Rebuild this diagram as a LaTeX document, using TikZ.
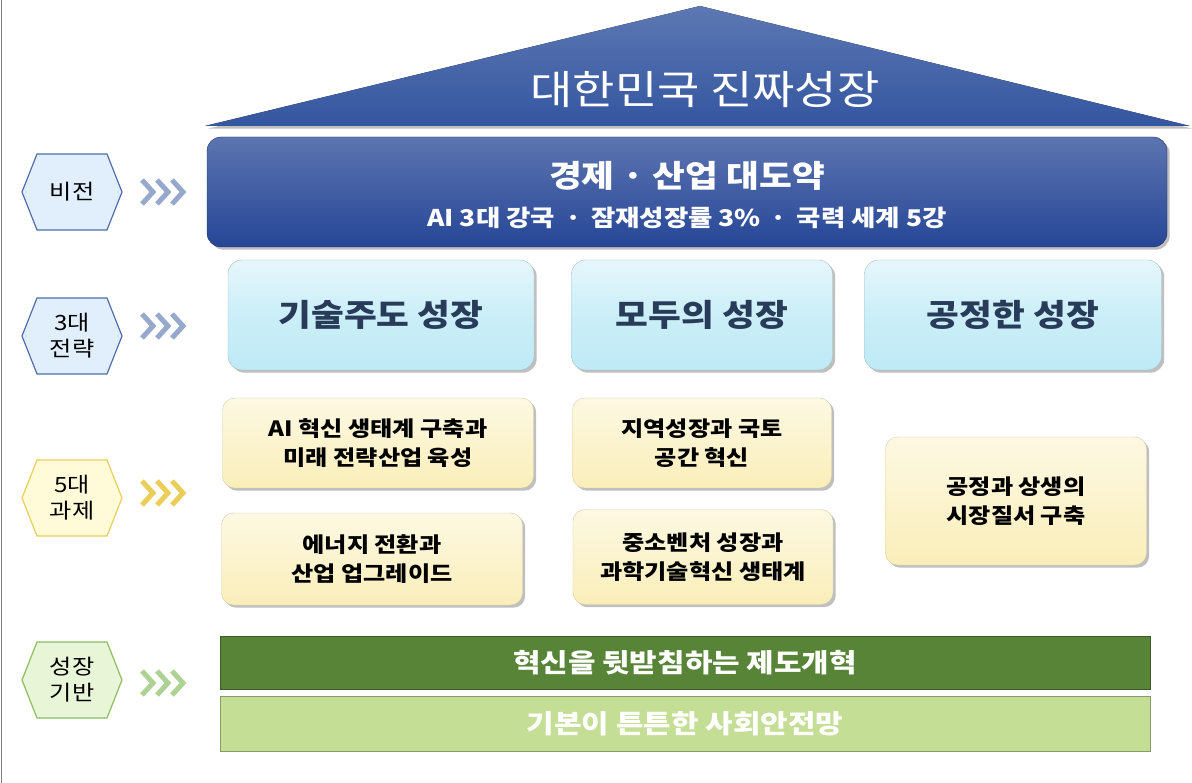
\documentclass[tikz,border=0pt]{standalone}
\usepackage{fontspec}
\setmainfont[FakeStretch=1.15]{Noto Sans CJK KR}
\usetikzlibrary{shadows,calc}
\definecolor{roofblue}{RGB}{52,86,160}
\definecolor{visblue}{RGB}{38,70,150}
\definecolor{stratfill}{RGB}{190,234,246}
\definecolor{stratText}{RGB}{40,60,90}
\definecolor{taskfill}{RGB}{250,238,185}
\definecolor{darkgreen}{RGB}{88,132,56}
\definecolor{lightgreen}{RGB}{196,222,150}
\definecolor{hexblue}{RGB}{225,238,252}
\definecolor{hexblueline}{RGB}{80,110,170}
\definecolor{hexyellow}{RGB}{255,250,215}
\definecolor{hexyellowline}{RGB}{235,205,90}
\definecolor{hexgreen}{RGB}{232,245,215}
\definecolor{hexgreenline}{RGB}{140,190,100}
\tikzset{
  stratbox/.style={draw=stratfill!60!gray, rounded corners=14pt, top color=stratfill!40, bottom color=stratfill, middle color=stratfill!80, drop shadow, font=\fontsize{31}{34}\selectfont\bfseries, text=stratText},
  taskbox/.style={draw=taskfill!70!gray, rounded corners=12pt, top color=taskfill!40, bottom color=taskfill, drop shadow, font=\fontsize{21}{29}\selectfont\bfseries, align=center},
  hexlabel/.style={font=\fontsize{21}{26}\selectfont, align=center},
  chev/.style={line width=5pt, line cap=butt, line join=miter}
}
\newcommand{\hexat}[4]{% center, fill, line, text
  \draw[fill=#2, draw=#3, line width=1.2pt] ($(#1)+(-50,0)$) -- ++(15,-38) -- ++(70,0) -- ++(15,38) -- ++(-15,38) -- ++(-70,0) -- cycle;
  \node[hexlabel] at (#1) {#4};}
\newcommand{\chevat}[2]{% start, colour
  \foreach \k in {0,1,2}
    \draw[chev, #2] ($(#1)+(\k*15,-12)$) -- ++(11,12) -- ++(-11,12);}
\begin{document}
\begin{tikzpicture}[x=1pt,y=-1pt]
\useasboundingbox (0,0) rectangle (1192,783);
\fill[white] (0,0) rectangle (1192,783);
\draw[gray, line width=1pt] (1,0) -- (1,783);
% roof
\fill[top color=roofblue!80, bottom color=roofblue, drop shadow] (700,6) -- (1190,126) -- (205,126) -- cycle;
\node[text=white, font=\fontsize{40}{42}\selectfont] (roof) at (705,90) {대한민국 진짜성장};
% vision
\node[rounded corners=14pt, top color=visblue!75, bottom color=visblue, draw=visblue!70!black, drop shadow,
  minimum width=960pt, minimum height=110pt] (vision) at (687,192) {};
\node[text=white, font=\fontsize{31}{34}\selectfont\bfseries] at (687,176) {경제 · 산업 대도약};
\node[text=white, font=\fontsize{23}{26}\selectfont\bfseries] at (687,218) {AI 3대 강국 \,·\, 잠재성장률 3\% \,·\, 국력 세계 5강};
% strategies
\node[stratbox, minimum width=306pt, minimum height=110pt] (s1) at (381,315) {기술주도 성장};
\node[stratbox, minimum width=261pt, minimum height=110pt] (s2) at (702,315) {모두의 성장};
\node[stratbox, minimum width=297pt, minimum height=110pt] (s3) at (1013,315) {공정한 성장};
% tasks
\node[taskbox, minimum width=311pt, minimum height=90pt] (t1) at (378,443) {AI 혁신 생태계 구축과\\미래 전략산업 육성};
\node[taskbox, minimum width=301pt, minimum height=92pt] (t2) at (372,559) {에너지 전환과\\산업 업그레이드};
\node[taskbox, minimum width=259pt, minimum height=90pt] (t3) at (702,443) {지역성장과 국토\\공간 혁신};
\node[taskbox, minimum width=260pt, minimum height=95pt] (t4) at (703,557) {중소벤처 성장과\\과학기술혁신 생태계};
\node[taskbox, minimum width=261pt, minimum height=128pt] (t5) at (1016,501) {공정과 상생의\\시장질서 구축};
% foundations
\node[fill=darkgreen, draw=darkgreen!70!black, minimum width=930pt, minimum height=53pt, text=white,
  font=\fontsize{26}{28}\selectfont\bfseries] (f1) at (685,663) {혁신을 뒷받침하는 제도개혁};
\node[fill=lightgreen, draw=lightgreen!70!black, minimum width=930pt, minimum height=55pt, text=white,
  font=\fontsize{26}{28}\selectfont\bfseries] (f2) at (685,724) {기본이 튼튼한 사회안전망};
% left labels
\coordinate (h1) at (72,192);
\coordinate (h2) at (72,336);
\coordinate (h3) at (72,498);
\coordinate (h4) at (72,680);
\hexat{h1}{hexblue}{hexblueline}{비전}
\hexat{h2}{hexblue}{hexblueline}{3대\\전략}
\hexat{h3}{hexyellow}{hexyellowline}{5대\\과제}
\hexat{h4}{hexgreen}{hexgreenline}{성장\\기반}
\chevat{142,192}{hexblueline!60}
\chevat{142,326}{hexblueline!60}
\chevat{142,493}{hexyellowline}
\chevat{142,683}{hexgreenline!70}
\end{tikzpicture}
\end{document}
